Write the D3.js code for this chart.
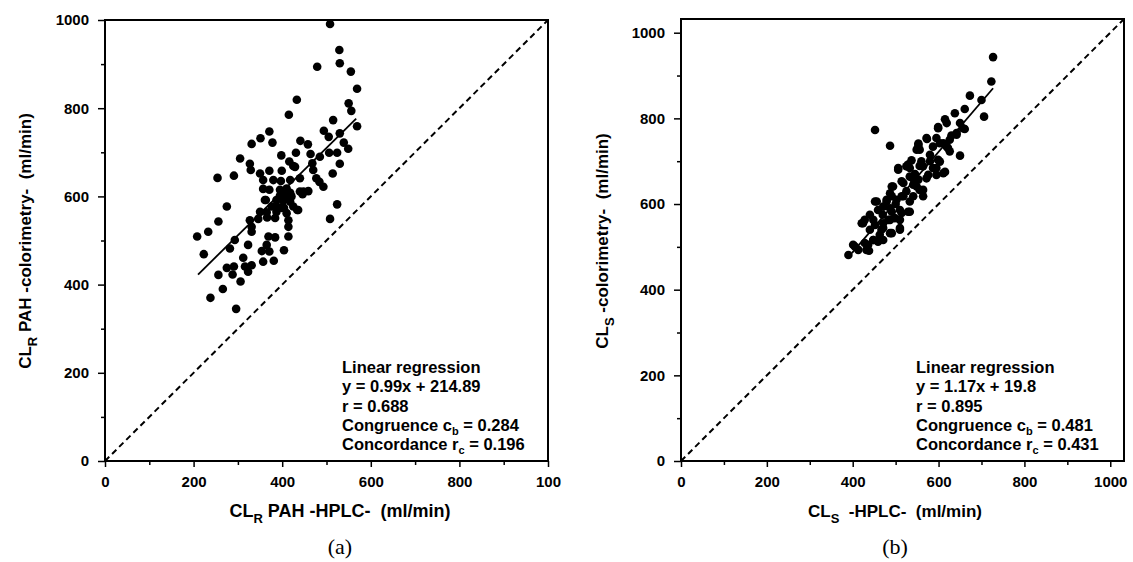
<!DOCTYPE html>
<html>
<head>
<meta charset="utf-8">
<script src="https://cdn.jsdelivr.net/npm/d3@7"></script>
<style>
  body { margin: 0; background: #fff; }
  svg { display: block; }
  .tick text { font-family: "Liberation Sans", Arial, sans-serif; font-weight: bold; font-size: 15px; fill: #000; }
  .domain { display: none; }
  .tick line { stroke: #000; stroke-width: 1.5; }
  .lbl { font-family: "Liberation Sans", Arial, sans-serif; font-weight: bold; fill: #000; white-space: pre; }
  .cap { font-family: "Liberation Serif", "Times New Roman", serif; font-size: 22px; fill: #000; }
</style>
</head>
<body>
<div id="container"></div>
<script>
// panel (a): CL_R PAH, HPLC (x) vs colorimetry (y), ml/min
var pointsA = [
  [508,991],[529,932],[530,902],[479,894],[555,883],[569,844],[433,819],[550,811],[556,794],[415,785],
  [515,773],[569,759],[371,747],[351,732],[331,719],[378,722],[494,749],[505,735],[530,743],[441,726],
  [458,718],[539,722],[549,708],[431,699],[464,696],[485,690],[524,699],[506,699],[398,693],[305,686],
  [416,679],[425,669],[327,674],[329,660],[468,675],[530,674],[514,652],[470,660],[477,641],[484,633],
  [493,622],[254,642],[291,647],[350,652],[371,658],[399,658],[429,667],[357,637],[380,637],[397,635],
  [418,637],[440,641],[357,617],[371,615],[395,615],[410,618],[440,611],[459,612],[446,605],[395,602],
  [410,600],[421,600],[387,592],[402,590],[418,588],[361,592],[275,577],[524,582],[376,577],[399,574],
  [425,577],[436,569],[350,565],[365,564],[387,565],[410,562],[256,543],[327,546],[346,549],[366,552],
  [384,551],[414,546],[508,549],[331,531],[414,531],[208,509],[233,520],[331,520],[414,509],[369,509],
  [384,507],[293,501],[323,490],[282,482],[365,490],[354,476],[371,475],[404,478],[223,469],[357,452],
  [381,454],[312,461],[331,444],[275,438],[291,441],[316,441],[323,429],[288,423],[256,422],[306,407],
  [266,390],[238,370],[296,345],[402,607],[418,608],[448,611],[388,577],[404,574],[434,569],[363,592]
];
// panel (b): CL_S, HPLC (x) vs colorimetry (y), ml/min
var pointsB = [
  [727,943],[723,886],[673,853],[700,843],[661,822],[638,812],[706,804],[615,798],[452,773],[599,780],
  [650,789],[661,775],[642,766],[573,752],[487,736],[595,754],[611,742],[626,750],[553,741],[556,727],
  [587,734],[622,731],[650,713],[537,702],[580,715],[599,703],[506,684],[529,692],[556,689],[603,699],
  [611,672],[595,668],[564,688],[533,684],[595,684],[615,675],[572,660],[514,653],[491,641],[541,645],
  [556,633],[564,618],[533,606],[514,618],[491,618],[479,606],[452,606],[459,586],[487,590],[514,579],
  [533,582],[498,567],[483,563],[440,575],[428,563],[421,555],[452,551],[471,544],[510,544],[491,532],
  [463,528],[471,516],[448,516],[436,505],[401,505],[413,493],[438,491],[390,481],[553,657],[518,649],
  [494,641],[564,633],[549,641],[541,618],[518,618],[510,586],[529,582],[487,563],[471,555],[448,563],
  [440,540],[467,540],[487,532],[510,540],[428,509],[405,501],[459,512],[580,700],[630,760],[545,670],
  [619,789],[599,777],[572,754],[553,738],[549,727],[603,742],[619,734],[642,762],[657,777],[626,723],
  [525,688],[506,680],[587,684],[576,668],[533,664],[487,625],[502,610],[479,610],[456,606],[471,594],
  [491,582],[510,563],[424,555],[448,516],[432,493],[560,700],[540,660],[525,630],[500,600],[470,575]
];

var regA = { slope: 0.99, intercept: 214.89, x0: 210, x1: 567 };
var regB = { slope: 1.17, intercept: 19.8, x0: 398, x1: 727 };

var majorTicks = [0, 200, 400, 600, 800, 1000];
var minorTicks = [100, 300, 500, 700, 900];
var xTickLabelsA = ["0", "200", "400", "600", "800", "100"];
var tickLabels = ["0", "200", "400", "600", "800", "1000"];

var statsA = ["Linear regression", "y = 0.99x + 214.89", "r = 0.688", ["Congruence  c", "b", " = 0.284"], ["Concordance r", "c", " = 0.196"]];
var statsB = ["Linear regression", "y = 1.17x + 19.8", "r = 0.895", ["Congruence  c", "b", " = 0.481"], ["Concordance r", "c", " = 0.431"]];

var svg = d3.select("#container").append("svg")
  .attr("width", 1133)
  .attr("height", 562);

function drawPanel(opt) {
  var x = d3.scaleLinear().domain([0, opt.max]).range([opt.left, opt.right]);
  var y = d3.scaleLinear().domain([0, opt.max]).range([opt.bottom, opt.top]);
  var g = svg.append("g");

  // minor ticks
  g.append("g").attr("transform", "translate(0," + opt.bottom + ")")
    .call(d3.axisBottom(x).tickValues(minorTicks).tickSize(4).tickFormat(""));
  g.append("g").attr("transform", "translate(" + opt.left + ",0)")
    .call(d3.axisLeft(y).tickValues(minorTicks).tickSize(4).tickFormat(""));

  // major ticks
  g.append("g").attr("transform", "translate(0," + opt.bottom + ")")
    .call(d3.axisBottom(x).tickValues(majorTicks).tickSize(6).tickPadding(9)
      .tickFormat(function (d, i) { return opt.xLabels[i]; }));
  g.append("g").attr("transform", "translate(" + opt.left + ",0)")
    .call(d3.axisLeft(y).tickValues(majorTicks).tickSize(7).tickPadding(9)
      .tickFormat(function (d, i) { return tickLabels[i]; }));

  // frame
  g.append("rect")
    .attr("x", opt.left).attr("y", opt.top)
    .attr("width", opt.right - opt.left).attr("height", opt.bottom - opt.top)
    .attr("fill", "none").attr("stroke", "#000").attr("stroke-width", 2);

  // identity line
  g.append("line")
    .attr("x1", x(0)).attr("y1", y(0)).attr("x2", x(opt.max)).attr("y2", y(opt.max))
    .attr("stroke", "#000").attr("stroke-width", 2).attr("stroke-dasharray", "6,4");

  // points
  g.append("g").selectAll("circle").data(opt.points).enter().append("circle")
    .attr("cx", function (d) { return x(d[0]); })
    .attr("cy", function (d) { return y(d[1]); })
    .attr("r", 4.3)
    .attr("fill", "#000");

  // regression line
  g.append("line")
    .attr("x1", x(opt.reg.x0)).attr("y1", y(opt.reg.slope * opt.reg.x0 + opt.reg.intercept))
    .attr("x2", x(opt.reg.x1)).attr("y2", y(opt.reg.slope * opt.reg.x1 + opt.reg.intercept))
    .attr("stroke", "#000").attr("stroke-width", 1.8);

  // stats text
  var st = g.append("g").attr("class", "lbl").style("font-size", "16.5px");
  opt.stats.forEach(function (line, i) {
    var t = st.append("text").attr("x", opt.statsX).attr("y", 373 + i * 19.3);
    if (typeof line === "string") {
      t.text(line);
    } else {
      t.append("tspan").text(line[0]);
      t.append("tspan").attr("dy", 4).style("font-size", "11px").text(line[1]);
      t.append("tspan").attr("dy", -4).text(line[2]);
    }
  });

  // x title
  var xt = g.append("text").attr("class", "lbl").style("font-size", opt.xTitleSize)
    .attr("text-anchor", "middle").attr("x", opt.xTitleX).attr("y", 517);
  xt.append("tspan").text("CL");
  xt.append("tspan").attr("dy", 6).style("font-size", "13px").text(opt.sub);
  xt.append("tspan").attr("dy", -6).text(opt.xTitle);

  // y title
  var yt = g.append("text").attr("class", "lbl").style("font-size", "17px")
    .attr("text-anchor", "middle")
    .attr("transform", "translate(" + opt.yTitleX + ",241) rotate(-90)");
  yt.append("tspan").text("CL");
  yt.append("tspan").attr("dy", 6).style("font-size", "13px").text(opt.sub);
  yt.append("tspan").attr("dy", -6).text(opt.yTitle);

  // caption
  g.append("text").attr("class", "cap").attr("text-anchor", "middle")
    .attr("x", opt.xTitleX).attr("y", 554).text(opt.caption);
}

drawPanel({
  left: 105, right: 548, top: 20, bottom: 461, max: 1000,
  points: pointsA, reg: regA, stats: statsA, statsX: 342,
  xLabels: xTickLabelsA, sub: "R", xTitleSize: "18px",
  xTitle: " PAH -HPLC-  (ml/min)", yTitle: " PAH -colorimetry-  (ml/min)",
  xTitleX: 340, yTitleX: 31, caption: "(a)"
});

drawPanel({
  left: 681, right: 1124, top: 19, bottom: 461, max: 1032,
  points: pointsB, reg: regB, stats: statsB, statsX: 916,
  xLabels: tickLabels, sub: "S", xTitleSize: "17px",
  xTitle: "  -HPLC-  (ml/min)", yTitle: " -colorimetry-  (ml/min)",
  xTitleX: 895, yTitleX: 608, caption: "(b)"
});
</script>
</body>
</html>
